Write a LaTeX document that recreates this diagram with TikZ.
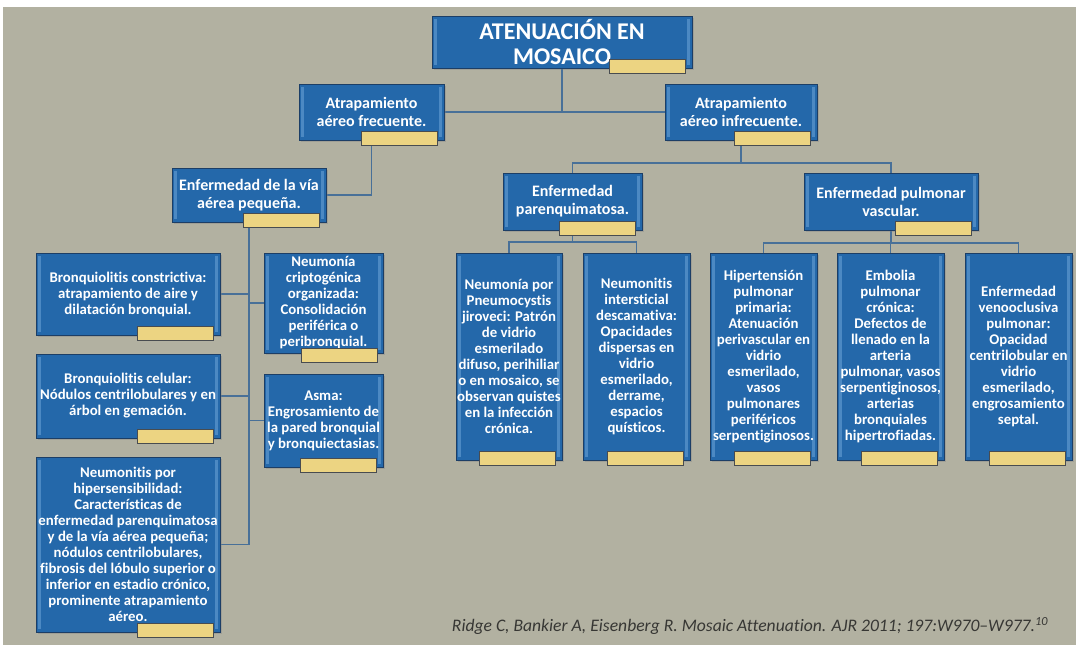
\documentclass[tikz,border=0pt]{standalone}
\usepackage{fontspec}
\setmainfont{Carlito}[Ligatures=NoCommon]
\usepackage{tikz}
\usetikzlibrary{positioning,backgrounds,shadows}
\definecolor{fondo}{RGB}{178,177,161}
\definecolor{azulcaja}{RGB}{36,104,170}
\definecolor{bordecaja}{RGB}{28,62,102}
\definecolor{brillo}{RGB}{125,178,226}
\definecolor{amarillo}{RGB}{236,212,130}
\definecolor{bordepest}{RGB}{72,76,80}
\definecolor{linea}{RGB}{72,112,152}
\definecolor{textocita}{RGB}{55,55,52}
\tikzset{
  caja/.style={draw=bordecaja, line width=1pt, fill=azulcaja, text=white, align=center,
    inner xsep=0pt, inner ysep=1pt, outer sep=0pt, anchor=north west,
    font=\bfseries\fontsize{14.8}{16}\selectfont,
    drop shadow={shadow xshift=1.5pt, shadow yshift=-1.5pt, opacity=.35},
    path picture={
      \fill[brillo, opacity=.45] ([shift={(2pt,-3pt)}]path picture bounding box.north west)
        rectangle ([shift={(5pt,3pt)}]path picture bounding box.south west);
      \fill[brillo, opacity=.45] ([shift={(-5pt,-3pt)}]path picture bounding box.north east)
        rectangle ([shift={(-2pt,3pt)}]path picture bounding box.south east);
    }},
  cajagrande/.style={caja, font=\bfseries\fontsize{16}{18}\selectfont},
  pestana/.style={draw=bordepest, line width=.8pt, fill=amarillo, minimum width=76pt,
    minimum height=14pt, inner sep=0pt},
  conector/.style={draw=linea, line width=1.6pt},
  cita/.style={text=textocita, font=\itshape\fontsize{17.6}{20}\selectfont},
}

\begin{document}
\begin{tikzpicture}[x=1pt, y=-1pt]
  \useasboundingbox (0,0) rectangle (1076,645);

  % niveles superiores
  \node[caja, minimum width=260pt, minimum height=52pt, inner ysep=0pt,
    font=\bfseries\fontsize{24}{24.5}\selectfont]
    (titulo) at (432,16) {ATENUACIÓN EN\\MOSAICO};
  \node[cajagrande, minimum width=145pt, minimum height=56pt] (frec) at (299,84) {Atrapamiento\\aéreo frecuente.};
  \node[cajagrande, minimum width=152pt, minimum height=56pt] (infrec) at (665,84) {Atrapamiento\\aéreo infrecuente.};
  \node[cajagrande, minimum width=154pt, minimum height=54pt] (via) at (172,168) {Enfermedad de la vía\\aérea pequeña.};
  \node[cajagrande, minimum width=139pt, minimum height=57pt] (parenq) at (503,173) {Enfermedad\\parenquimatosa.};
  \node[cajagrande, minimum width=174pt, minimum height=57pt] (vascular) at (804,173) {Enfermedad pulmonar\\vascular.};

  % via aerea pequena
  \node[caja, minimum width=184pt, minimum height=82pt] (constr) at (36,253)
    {Bronquiolitis constrictiva:\\atrapamiento de aire y\\dilatación bronquial.};
  \node[caja, minimum width=119pt, minimum height=100pt] (cripto) at (264,253)
    {Neumonía\\criptogénica\\organizada:\\Consolidación\\periférica o\\peribronquial.};
  \node[caja, minimum width=184pt, minimum height=84pt] (celular) at (36,354)
    {Bronquiolitis celular:\\Nódulos centrilobulares y en\\árbol en gemación.};
  \node[caja, minimum width=119pt, minimum height=93pt] (asma) at (264,374)
    {Asma:\\Engrosamiento de\\la pared bronquial\\y bronquiectasias.};
  \node[caja, minimum width=184pt, minimum height=175pt] (hiper) at (36,457)
    {Neumonitis por\\hipersensibilidad:\\Características de\\enfermedad parenquimatosa\\y de la vía aérea pequeña;\\nódulos centrilobulares,\\fibrosis del lóbulo superior o\\inferior en estadio crónico,\\prominente atrapamiento\\aéreo.};

  % parenquimatosa
  \node[caja, minimum width=106pt, minimum height=207pt] (pneumo) at (456,253)
    {Neumonía por\\Pneumocystis\\jiroveci: Patrón\\de vidrio\\esmerilado\\difuso, perihiliar\\o en mosaico, se\\observan quistes\\en la infección\\crónica.};
  \node[caja, minimum width=107pt, minimum height=207pt] (desc) at (583,253)
    {Neumonitis\\intersticial\\descamativa:\\Opacidades\\dispersas en\\vidrio\\esmerilado,\\derrame,\\espacios\\quísticos.};

  % vascular
  \node[caja, minimum width=107pt, minimum height=207pt] (hipert) at (710,253)
    {Hipertensión\\pulmonar\\primaria:\\Atenuación\\perivascular en\\vidrio\\esmerilado,\\vasos\\pulmonares\\periféricos\\serpentiginosos.};
  \node[caja, minimum width=107pt, minimum height=207pt] (embolia) at (837,253)
    {Embolia\\pulmonar\\crónica:\\Defectos de\\llenado en la\\arteria\\pulmonar, vasos\\serpentiginosos,\\arterias\\bronquiales\\hipertrofiadas.};
  \node[caja, minimum width=107pt, minimum height=207pt] (veno) at (965,253)
    {Enfermedad\\venooclusiva\\pulmonar:\\Opacidad\\centrilobular en\\vidrio\\esmerilado,\\engrosamiento\\septal.};

  % pestanas amarillas
  \foreach \n in {titulo,frec,infrec,via,parenq,vascular,constr,celular,asma,hiper,pneumo,desc,hipert,embolia,veno}
    \node[pestana, above left=-6pt and 6pt of \n.south east] (\n-p) {};
  \node[pestana, above left=-10pt and 5pt of cripto.south east] (cripto-p) {};

  \node[cita] (cita) at (750,626) {Ridge C, Bankier A, Eisenberg R. Mosaic Attenuation. AJR 2011; 197:W970--W977.\textsuperscript{10}};

  \begin{scope}[on background layer]
    \fill[white] (0,0) rectangle (1076,645);
    \fill[fondo] (3,7) rectangle (1076,645);

    \draw[conector] (titulo) |- (frec);
    \draw[conector] (titulo) |- (infrec);
    \draw[conector] (frec) |- (via);

    \draw[conector] (via) |- (hiper);
    \draw[conector] (constr) -- (constr -| via);
    \draw[conector] (celular) -- (celular -| via);
    \draw[conector] (cripto) -- (cripto -| via);
    \draw[conector] (asma) -- (asma -| via);

    \draw[conector] (infrec.south) -- ++(0,-23pt) -| (parenq.north);
    \draw[conector] (infrec.south) -- ++(0,-23pt) -| (vascular.north);

    \draw[conector] (parenq.south) -- ++(0,-12pt) -| (pneumo.north);
    \draw[conector] (parenq.south) -- ++(0,-12pt) -| (desc.north);

    \draw[conector] (vascular.south) -- ++(0,-13pt) -| (hipert.north);
    \draw[conector] (vascular.south) -- ++(0,-13pt) -| (embolia.north);
    \draw[conector] (vascular.south) -- ++(0,-13pt) -| (veno.north);
  \end{scope}
\end{tikzpicture}
\end{document}
